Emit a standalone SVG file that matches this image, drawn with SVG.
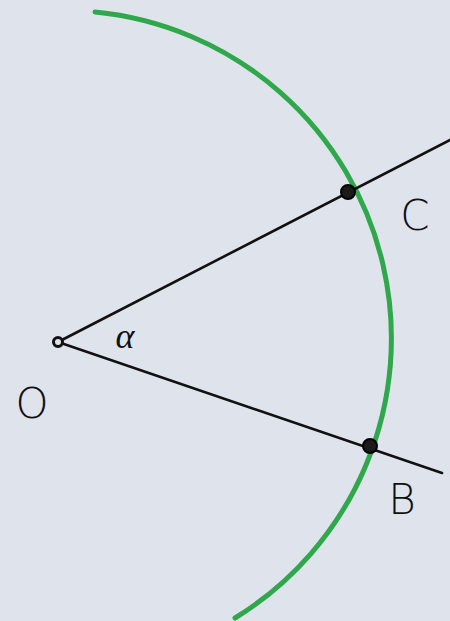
<svg xmlns="http://www.w3.org/2000/svg" width="450" height="621" viewBox="0 0 450 621">
<style>
.ln{stroke:#111;stroke-width:2.6;fill:none;stroke-linecap:round}
.lbl{font-family:"DejaVu Sans","Liberation Sans",sans-serif;font-size:42px;fill:#111;font-weight:300}
.pt{fill:#1a1a1a;stroke:#000;stroke-width:2}
</style>
<rect width="450" height="621" fill="#dfe4ec"/>
<g id="arc">
<path d="M95,12 A328,328 0 0 1 235,618" fill="none" stroke="#2fa84c" stroke-width="5" stroke-linecap="round"/>
</g>
<g id="connectors">
<line class="ln" x1="58" y1="342" x2="452" y2="139"/>
<line class="ln" x1="58" y1="342" x2="442" y2="473"/>
</g>
<g id="O">
<circle cx="58" cy="342" r="4.5" fill="#dfe4ec" stroke="#111" stroke-width="3"/>
<text class="lbl" x="32" y="418" text-anchor="middle">O</text>
</g>
<g id="C">
<circle class="pt" cx="348" cy="192" r="7"/>
<text class="lbl" x="415" y="230" text-anchor="middle">C</text>
</g>
<g id="B">
<circle class="pt" cx="370" cy="446" r="7"/>
<text class="lbl" x="402" y="514" text-anchor="middle">B</text>
</g>
<g id="alpha">
<text x="125" y="348" text-anchor="middle" font-family="'Liberation Serif',serif" font-style="italic" font-size="36" fill="#111">α</text>
</g>
</svg>
